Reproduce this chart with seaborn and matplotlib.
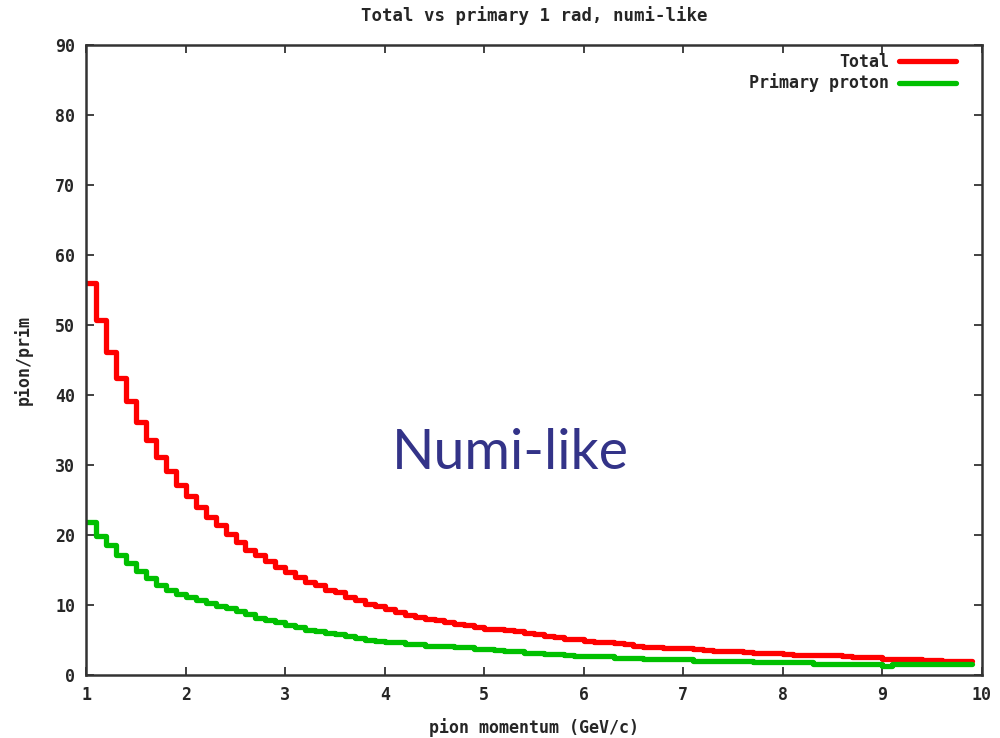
import numpy as np
import pandas as pd
import matplotlib
matplotlib.use("Agg")
import matplotlib.pyplot as plt
import seaborn as sns
from matplotlib.lines import Line2D

# ---- data (bin starts in GeV/c, 0.1 wide) ----
momentum = [round(1.0 + 0.1 * i, 1) for i in range(90)]

total = [
    56.0, 50.7, 46.2, 42.4, 39.1, 36.1, 33.6, 31.2, 29.2, 27.2,
    25.5, 24.0, 22.6, 21.4, 20.2, 19.0, 17.9, 17.1, 16.3, 15.4,
    14.7, 14.0, 13.3, 12.8, 12.2, 11.8, 11.2, 10.7, 10.2, 9.8,
    9.4, 9.0, 8.6, 8.3, 8.0, 7.8, 7.5, 7.3, 7.1, 6.85,
    6.6, 6.5, 6.4, 6.3, 6.0, 5.9, 5.6, 5.4, 5.2, 5.1,
    4.9, 4.75, 4.7, 4.5, 4.45, 4.2, 4.05, 4.0, 3.9, 3.85,
    3.8, 3.65, 3.6, 3.45, 3.4, 3.4, 3.35, 3.2, 3.15, 3.1,
    3.0, 2.9, 2.9, 2.8, 2.8, 2.8, 2.75, 2.6, 2.55, 2.5,
    2.35, 2.3, 2.3, 2.25, 2.1, 2.07, 2.05, 2.05, 2.05, 2.05,
]

primary = [
    21.8, 19.9, 18.5, 17.2, 16.0, 14.8, 13.9, 12.9, 12.2, 11.6,
    11.1, 10.7, 10.3, 9.9, 9.5, 9.1, 8.7, 8.2, 7.9, 7.5,
    7.2, 6.8, 6.45, 6.35, 6.0, 5.9, 5.5, 5.3, 5.05, 4.85,
    4.7, 4.65, 4.45, 4.4, 4.2, 4.15, 4.1, 4.0, 3.95, 3.75,
    3.7, 3.6, 3.45, 3.4, 3.15, 3.15, 2.95, 2.95, 2.9, 2.7,
    2.7, 2.7, 2.65, 2.45, 2.45, 2.45, 2.3, 2.3, 2.3, 2.3,
    2.25, 2.0, 2.0, 2.0, 2.0, 2.0, 2.0, 1.8, 1.8, 1.8,
    1.8, 1.8, 1.8, 1.6, 1.6, 1.6, 1.6, 1.6, 1.6, 1.6,
    1.35, 1.5, 1.5, 1.5, 1.5, 1.5, 1.5, 1.5, 1.5, 1.5,
]

series_names = ["Total", "Primary proton"]
series_colors = ["#ff0000", "#00c000"]
x_ticks = list(range(1, 11))
y_ticks = list(range(0, 91, 10))

df = pd.DataFrame({
    "momentum": momentum * 2,
    "value": total + primary,
    "series": [series_names[0]] * len(momentum) + [series_names[1]] * len(momentum),
})

sns.set_theme(style="ticks")
plt.rcParams["font.family"] = ["DejaVu Sans Mono", "DejaVu Sans"]

fig = plt.figure(figsize=(10, 7.38), dpi=100)
ax = fig.add_axes([0.0863, 0.0854, 0.9817 - 0.0863, 0.939 - 0.0854])

palette = dict(zip(series_names, series_colors))
sns.lineplot(data=df, x="momentum", y="value", hue="series", palette=palette,
             estimator=None, drawstyle="steps-post", linewidth=3.8,
             legend=False, ax=ax)

ax.set_xlim(1, 10)
ax.set_ylim(0, 90)
ax.set_xticks(x_ticks)
ax.set_yticks(y_ticks)
ax.set_xticklabels([str(t) for t in x_ticks], fontsize=12, fontweight="bold")
ax.set_yticklabels([str(t) for t in y_ticks], fontsize=12, fontweight="bold")
ax.tick_params(direction="in", length=6, width=1.3, top=True, right=True,
               color="#333333", pad=8)
for s in ax.spines.values():
    s.set_visible(True)
    s.set_linewidth(1.8)
    s.set_color("#333333")

ax.set_xlabel("pion momentum (GeV/c)", fontsize=12, fontweight="bold", labelpad=10)
ax.set_ylabel("pion/prim", fontsize=12, fontweight="bold", labelpad=16)
ax.set_title("Total vs primary 1 rad, numi-like", fontsize=12.5,
             fontweight="bold", pad=17)

handles = [Line2D([], [], color=c, linewidth=3.8) for c in series_colors]
leg = ax.legend(handles, series_names, loc="upper right", frameon=False,
                markerfirst=False, handlelength=3.4, fontsize=12,
                bbox_to_anchor=(0.984, 1.006),
                borderaxespad=0.3, labelspacing=0.15, handletextpad=0.6)
for t in leg.get_texts():
    t.set_fontweight("bold")

ax.text(0.474, 0.352, "Numi-like", transform=ax.transAxes, ha="center",
        va="center", fontsize=40, color="#333388", family="Lato")

fig.savefig("out.png", dpi=100)
